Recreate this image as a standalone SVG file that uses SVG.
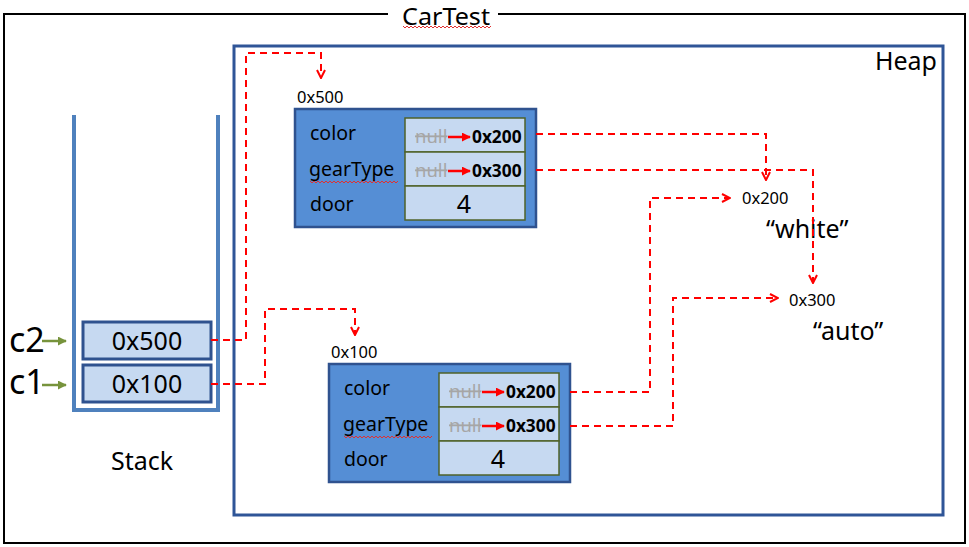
<svg xmlns="http://www.w3.org/2000/svg" width="969" height="547" viewBox="0 0 969 547">
<defs>
<style>
text{font-family:"Noto Sans","Open Sans","Liberation Sans",sans-serif;fill:#000}
.dash{fill:none;stroke:#ff0000;stroke-width:2;stroke-dasharray:7 5}
.obj{fill:#558ed5;stroke:#2f528f;stroke-width:2.5}
.cell{fill:#c6d9f1;stroke:#4f6228;stroke-width:1.5}
.scell{fill:#c6d9f1;stroke:#2f528f;stroke-width:3}
.lbl{font-size:19.5px}
.null{font-size:18.5px;fill:#a6a6a6;text-decoration:line-through}
.ptr{font-size:17.3px;font-weight:bold}
.addr{font-size:16.5px}
.big{font-size:25px}
.squig{fill:none;stroke:#e03030;stroke-width:1}
</style>
<marker id="open" viewBox="0 0 10 10" refX="9" refY="5" markerWidth="10" markerHeight="10" markerUnits="userSpaceOnUse" orient="auto">
<path d="M1,1 L9,5 L1,9" fill="none" stroke="#ff0000" stroke-width="2"/>
</marker>
<marker id="solid" viewBox="0 0 10 10" refX="9" refY="5" markerWidth="9" markerHeight="9" markerUnits="userSpaceOnUse" orient="auto">
<path d="M0,0 L10,5 L0,10 Z" fill="#ff0000"/>
</marker>
<marker id="green" viewBox="0 0 10 10" refX="9" refY="5" markerWidth="9" markerHeight="9" markerUnits="userSpaceOnUse" orient="auto">
<path d="M0,0 L10,5 L0,10 Z" fill="#77933c"/>
</marker>
</defs>
<rect width="969" height="547" fill="#fff"/>
<g id="frame">
<path d="M388,14 H4 V543 H965 V14 H498" fill="none" stroke="#000" stroke-width="2"/>
<text x="402" y="24.5" font-size="23" textLength="88" lengthAdjust="spacingAndGlyphs">CarTest</text>
<path class="squig" d="M403,26 l2,2 l2,-2 l2,2 l2,-2 l2,2 l2,-2 l2,2 l2,-2 l2,2 l2,-2 l2,2 l2,-2 l2,2 l2,-2 l2,2 l2,-2 l2,2 l2,-2 l2,2 l2,-2 l2,2 l2,-2 l2,2 l2,-2 l2,2 l2,-2 l2,2 l2,-2 l2,2 l2,-2 l2,2 l2,-2 l2,2 l2,-2 l2,2 l2,-2 l2,2 l2,-2 l2,2 l2,-2 l2,2 l2,-2 l2,2 l2,-2"/>
</g>
<g id="heap">
<rect x="234" y="46" width="709" height="469" fill="none" stroke="#2f5597" stroke-width="3"/>
<text class="big" x="937" y="70" text-anchor="end">Heap</text>
</g>
<g id="stack">
<path d="M74,115 V410 H218 V115" fill="none" stroke="#4f81bd" stroke-width="4"/>
<text class="big" x="142" y="470" text-anchor="middle">Stack</text>
</g>
<g id="stack-c2">
<rect class="scell" x="83" y="322" width="128" height="37"/>
<text class="big" x="147" y="350" text-anchor="middle">0x500</text>
<text x="9" y="352" font-size="34">c2</text>
<line x1="42" y1="341" x2="66" y2="341" stroke="#77933c" stroke-width="2.5" marker-end="url(#green)"/>
</g>
<g id="stack-c1">
<rect class="scell" x="83" y="365" width="128" height="37"/>
<text class="big" x="147" y="393" text-anchor="middle">0x100</text>
<text x="9" y="394" font-size="34">c1</text>
<line x1="42" y1="385" x2="66" y2="385" stroke="#77933c" stroke-width="2.5" marker-end="url(#green)"/>
</g>
<g id="obj-0x500">
<text class="addr" x="297" y="103">0x500</text>
<rect class="obj" x="295" y="109" width="241" height="118"/>
<rect class="cell" x="405" y="118" width="120" height="34"/>
<rect class="cell" x="405" y="152" width="120" height="34"/>
<rect class="cell" x="405" y="186" width="120" height="34"/>
<text class="lbl" x="310" y="140">color</text>
<text class="lbl" x="309" y="176">gearType</text>
<path class="squig" d="M310,181 l2,2 l2,-2 l2,2 l2,-2 l2,2 l2,-2 l2,2 l2,-2 l2,2 l2,-2 l2,2 l2,-2 l2,2 l2,-2 l2,2 l2,-2 l2,2 l2,-2 l2,2 l2,-2 l2,2 l2,-2 l2,2 l2,-2 l2,2 l2,-2 l2,2 l2,-2 l2,2 l2,-2 l2,2 l2,-2 l2,2 l2,-2 l2,2 l2,-2 l2,2 l2,-2 l2,2 l2,-2 l2,2 l2,-2 l2,2 l2,-2"/>
<text class="lbl" x="310" y="211">door</text>
<text class="null" x="415" y="143">null</text>
<line x1="448" y1="137" x2="470" y2="137" stroke="#ff0000" stroke-width="2.5" marker-end="url(#solid)"/>
<text class="ptr" x="472" y="143">0x200</text>
<text class="null" x="415" y="177">null</text>
<line x1="448" y1="171" x2="470" y2="171" stroke="#ff0000" stroke-width="2.5" marker-end="url(#solid)"/>
<text class="ptr" x="472" y="177">0x300</text>
<text class="big" x="464" y="213" text-anchor="middle">4</text>
</g>
<g id="obj-0x100">
<text class="addr" x="331" y="358">0x100</text>
<rect class="obj" x="329" y="364" width="241" height="118"/>
<rect class="cell" x="439" y="373" width="120" height="34"/>
<rect class="cell" x="439" y="407" width="120" height="34"/>
<rect class="cell" x="439" y="441" width="120" height="34"/>
<text class="lbl" x="344" y="395">color</text>
<text class="lbl" x="343" y="431">gearType</text>
<path class="squig" d="M344,436 l2,2 l2,-2 l2,2 l2,-2 l2,2 l2,-2 l2,2 l2,-2 l2,2 l2,-2 l2,2 l2,-2 l2,2 l2,-2 l2,2 l2,-2 l2,2 l2,-2 l2,2 l2,-2 l2,2 l2,-2 l2,2 l2,-2 l2,2 l2,-2 l2,2 l2,-2 l2,2 l2,-2 l2,2 l2,-2 l2,2 l2,-2 l2,2 l2,-2 l2,2 l2,-2 l2,2 l2,-2 l2,2 l2,-2 l2,2 l2,-2"/>
<text class="lbl" x="344" y="466">door</text>
<text class="null" x="449" y="398">null</text>
<line x1="482" y1="392" x2="504" y2="392" stroke="#ff0000" stroke-width="2.5" marker-end="url(#solid)"/>
<text class="ptr" x="506" y="398">0x200</text>
<text class="null" x="449" y="432">null</text>
<line x1="482" y1="426" x2="504" y2="426" stroke="#ff0000" stroke-width="2.5" marker-end="url(#solid)"/>
<text class="ptr" x="506" y="432">0x300</text>
<text class="big" x="498" y="468" text-anchor="middle">4</text>
</g>
<g id="str-white">
<text class="addr" x="742" y="204">0x200</text>
<text class="big" x="766" y="238">“white”</text>
</g>
<g id="str-auto">
<text class="addr" x="789" y="306">0x300</text>
<text class="big" x="813" y="340">“auto”</text>
</g>
<g id="connectors">
<path class="dash" d="M211,340 H246 V53 H321 V78" marker-end="url(#open)"/>
<path class="dash" d="M211,384 H265 V309 H355 V335" marker-end="url(#open)"/>
<path class="dash" d="M536,134 H766 V180" marker-end="url(#open)"/>
<path class="dash" d="M536,170 H813 V283" marker-end="url(#open)"/>
<path class="dash" d="M570,392 H650 V198 H730" marker-end="url(#open)"/>
<path class="dash" d="M570,426 H673 V298 H778" marker-end="url(#open)"/>
</g>
</svg>
